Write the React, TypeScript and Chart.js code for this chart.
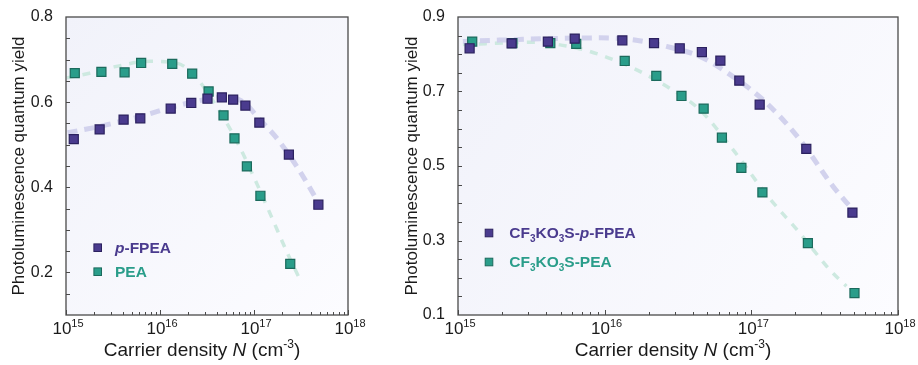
import React, { useEffect, useRef } from 'react';
import { Chart, registerables } from 'chart.js';

Chart.register(...registerables);

const FONT = '"Liberation Sans", Arial, Helvetica, sans-serif';
const INK = '#1a1a1a';
const FRAME = '#4a4a4a';
const PURPLE = '#4a3b8e';
const PURPLE_EDGE = '#2b215f';
const TEAL = '#2a9d8a';
const TEAL_EDGE = '#1b6a5c';
const PURPLE_FIT = 'rgba(208, 208, 236, 0.95)';
const TEAL_FIT = 'rgba(202, 232, 222, 0.95)';

// ---- Left panel: p-FPEA and PEA films ----
const fpeaN = [1.21e15, 2.28e15, 4.1e15, 6.17e15, 1.3e16, 2.15e16, 3.2e16, 4.55e16, 6.0e16, 8.1e16, 1.14e17, 2.35e17, 4.84e17];
const fpeaPLQY = [0.513, 0.536, 0.559, 0.562, 0.585, 0.598, 0.608, 0.611, 0.606, 0.592, 0.552, 0.477, 0.359];
const peaN = [1.24e15, 2.38e15, 4.2e15, 6.3e15, 1.35e16, 2.2e16, 3.29e16, 4.74e16, 6.2e16, 8.4e16, 1.17e17, 2.43e17];
const peaPLQY = [0.668, 0.671, 0.67, 0.692, 0.69, 0.667, 0.625, 0.569, 0.515, 0.449, 0.38, 0.22];

// fitted trend curves (dashed)
const fpeaFitN = [1.04e15, 2.28e15, 6.07e15, 1.43e16, 3.37e16, 5.22e16, 7.93e16, 1.14e17, 1.65e17, 2.38e17, 3.44e17, 4.61e17];
const fpeaFit = [0.528, 0.543, 0.566, 0.59, 0.608, 0.613, 0.598, 0.56, 0.522, 0.475, 0.42, 0.372];
const peaFitN = [1.02e15, 1.78e15, 3.46e15, 7.74e15, 1.54e16, 2.39e16, 3.37e16, 4.86e16, 7.02e16, 1.04e17, 1.54e17, 2.27e17, 3.2e17];
const peaFit = [0.657, 0.668, 0.684, 0.696, 0.691, 0.66, 0.615, 0.56, 0.495, 0.415, 0.33, 0.245, 0.176];

// ---- Right panel: CF3KO3S-treated films ----
const cfFpeaN = [1.2e15, 2.32e15, 4.1e15, 6.25e15, 1.32e16, 2.17e16, 3.25e16, 4.6e16, 6.15e16, 8.28e16, 1.14e17, 2.37e17, 4.89e17];
const cfFpeaPLQY = [0.816, 0.829, 0.834, 0.842, 0.837, 0.83, 0.816, 0.806, 0.783, 0.729, 0.665, 0.546, 0.375];
const cfPeaN = [1.25e15, 2.35e15, 4.26e15, 6.4e15, 1.37e16, 2.25e16, 3.34e16, 4.73e16, 6.3e16, 8.55e16, 1.19e17, 2.43e17, 5.05e17];
const cfPeaPLQY = [0.834, 0.83, 0.83, 0.828, 0.782, 0.742, 0.688, 0.654, 0.576, 0.495, 0.429, 0.293, 0.159];

const cfFpeaFitN = [1.08e15, 1.92e15, 9.25e15, 1.56e16, 2.64e16, 4.45e16, 7.5e16, 1.27e17, 2.14e17, 3.61e17, 4.69e17];
const cfFpeaFit = [0.834, 0.838, 0.844, 0.839, 0.821, 0.794, 0.74, 0.669, 0.571, 0.445, 0.392];
const cfPeaFitN = [1.08e15, 3.24e15, 6.41e15, 9.25e15, 1.56e16, 2.64e16, 4.45e16, 7.5e16, 1.27e17, 2.14e17, 3.42e17, 4.45e17];
const cfPeaFit = [0.826, 0.832, 0.817, 0.799, 0.763, 0.714, 0.651, 0.544, 0.423, 0.32, 0.222, 0.177];

// ---- axes ----
const xDecades = [15, 16, 17, 18];
const leftYTicks = [0.2, 0.4, 0.6, 0.8];
const rightYTicks = [0.1, 0.3, 0.5, 0.7, 0.9];

type Run = { t: string; italic?: boolean; sub?: boolean; sup?: boolean };

const xTitleRuns: Run[] = [
  { t: 'Carrier density ' },
  { t: 'N', italic: true },
  { t: ' (cm' },
  { t: '-3', sup: true },
  { t: ')' },
];

const leftLegendRuns: Run[][] = [
  [{ t: 'p', italic: true }, { t: '-FPEA' }],
  [{ t: 'PEA' }],
];
const rightLegendRuns: Run[][] = [
  [{ t: 'CF' }, { t: '3', sub: true }, { t: 'KO' }, { t: '3', sub: true }, { t: 'S-' }, { t: 'p', italic: true }, { t: '-FPEA' }],
  [{ t: 'CF' }, { t: '3', sub: true }, { t: 'KO' }, { t: '3', sub: true }, { t: 'S-PEA' }],
];

interface Series { xs: number[]; ys: number[]; fill: string; edge: string }
interface Fit { xs: number[]; ys: number[]; color: string; width: number; dash: number[] }
interface PanelSpec {
  points: Series[]; // first entry drawn on top
  fits: Fit[];
  yMin: number;
  yMax: number;
  yTicks: number[];
  yMinorStep: number;
  yAxisWidth: number;
  titlePad: number;
  padRight: number;
  legend: { squareX: number; firstY: number; rowGap: number; textX: number; runs: Run[][] };
}

function drawRuns(ctx: CanvasRenderingContext2D, runs: Run[], x: number, baseline: number, size: number, weight: string, color: string, draw = true): number {
  let cx = x;
  for (const r of runs) {
    const small = r.sub || r.sup;
    const fs = small ? Math.round(size * 0.65) : size;
    ctx.font = `${r.italic ? 'italic ' : ''}${weight} ${fs}px ${FONT}`;
    const dy = r.sub ? size * 0.28 : r.sup ? -size * 0.42 : 0;
    if (draw) {
      ctx.fillStyle = color;
      ctx.fillText(r.t, cx, baseline + dy);
    }
    cx += ctx.measureText(r.t).width;
  }
  return cx - x;
}

function makeDecor(spec: PanelSpec) {
  return {
    id: 'panelDecor',
    beforeDraw(chart: any) {
      const { ctx, chartArea: a } = chart;
      const g = ctx.createLinearGradient(a.left, a.top, a.right, a.bottom);
      g.addColorStop(0, '#f1f2fa');
      g.addColorStop(1, '#fcfcff');
      ctx.save();
      ctx.fillStyle = g;
      ctx.fillRect(a.left, a.top, a.right - a.left, a.bottom - a.top);
      ctx.restore();
    },
    afterDraw(chart: any) {
      const { ctx, chartArea: a, scales } = chart;
      const xs = scales.x;
      const ys = scales.y;
      ctx.save();
      ctx.strokeStyle = FRAME;
      ctx.lineWidth = 1.3;
      ctx.strokeRect(a.left, a.top, a.right - a.left, a.bottom - a.top);

      // inward ticks on the left axis
      ctx.lineWidth = 1;
      ctx.beginPath();
      const n = Math.round((spec.yMax - spec.yMin) / spec.yMinorStep);
      for (let i = 1; i < n; i++) {
        const v = spec.yMin + i * spec.yMinorStep;
        const py = Math.round(ys.getPixelForValue(v)) + 0.5;
        ctx.moveTo(a.left, py);
        ctx.lineTo(a.left + 4, py);
      }
      // inward ticks on the bottom axis (log decades + minors)
      for (const d of xDecades) {
        const px = Math.round(xs.getPixelForValue(Math.pow(10, d))) + 0.5;
        ctx.moveTo(px, a.bottom);
        ctx.lineTo(px, a.bottom - 5);
        if (d === xDecades[xDecades.length - 1]) continue;
        for (let k = 2; k <= 9; k++) {
          const mx = Math.round(xs.getPixelForValue(k * Math.pow(10, d))) + 0.5;
          ctx.moveTo(mx, a.bottom);
          ctx.lineTo(mx, a.bottom - 3);
        }
      }
      ctx.stroke();

      // x tick labels: 10^n
      ctx.textAlign = 'left';
      ctx.textBaseline = 'alphabetic';
      for (const d of xDecades) {
        const runs: Run[] = [{ t: '10' }, { t: String(d), sup: true }];
        const w = drawRuns(ctx, runs, 0, 0, 17, 'normal', INK, false);
        const px = xs.getPixelForValue(Math.pow(10, d));
        drawRuns(ctx, runs, px - w / 2 + 2, a.bottom + 19, 17, 'normal', INK);
      }

      // x axis title
      const tw = drawRuns(ctx, xTitleRuns, 0, 0, 19, 'normal', INK, false);
      const cx = (a.left + a.right) / 2 - 5;
      drawRuns(ctx, xTitleRuns, cx - tw / 2, a.bottom + 41, 19, 'normal', INK);

      // legend
      const L = spec.legend;
      L.runs.forEach((runs, i) => {
        const s = spec.points[i];
        const cy = L.firstY + i * L.rowGap;
        ctx.fillStyle = s.fill;
        ctx.fillRect(L.squareX - 3.8, cy - 3.8, 7.6, 7.6);
        ctx.strokeStyle = s.edge;
        ctx.lineWidth = 1;
        ctx.strokeRect(L.squareX - 3.8, cy - 3.8, 7.6, 7.6);
        drawRuns(ctx, runs, L.textX, cy + 5, 15.5, 'bold', s.fill);
      });
      ctx.restore();
    },
  };
}

function buildConfig(spec: PanelSpec): any {
  const pts = (xs: number[], ys: number[]) => xs.map((x, i) => ({ x, y: ys[i] }));
  const pointSets = spec.points.map((s, i) => ({
    data: pts(s.xs, s.ys),
    showLine: false,
    pointStyle: 'rect',
    pointRadius: 6.4,
    pointBackgroundColor: s.fill,
    pointBorderColor: s.edge,
    pointBorderWidth: 1.2,
    order: i,
  }));
  const fitSets = spec.fits.map((f, i) => ({
    data: pts(f.xs, f.ys),
    borderColor: f.color,
    borderWidth: f.width,
    borderDash: f.dash,
    pointRadius: 0,
    cubicInterpolationMode: 'monotone',
    fill: false,
    order: 10 + i,
  }));
  return {
    type: 'line',
    data: { datasets: [...pointSets, ...fitSets] },
    options: {
      responsive: false,
      animation: false,
      devicePixelRatio: 1,
      events: [],
      layout: { padding: { top: 17, right: spec.padRight, left: 0, bottom: 0 } },
      scales: {
        x: {
          type: 'logarithmic',
          min: 1e15,
          max: 1e18,
          grid: { display: false },
          border: { display: false },
          ticks: { display: false },
          afterFit: (s: any) => {
            s.height = 50;
          },
        },
        y: {
          type: 'linear',
          min: spec.yMin,
          max: spec.yMax,
          grid: { display: false },
          border: { display: false },
          afterBuildTicks: (s: any) => {
            s.ticks = spec.yTicks.map((v) => ({ value: v }));
          },
          ticks: {
            font: { family: FONT, size: 16 },
            color: INK,
            padding: 5,
            callback: (v: any) => Number(v).toFixed(1),
          },
          title: {
            display: true,
            text: 'Photoluminescence quantum yield',
            font: { family: FONT, size: 17 },
            color: INK,
            padding: { top: spec.titlePad, bottom: 0 },
          },
          afterFit: (s: any) => {
            s.width = spec.yAxisWidth;
          },
        },
      },
      plugins: { legend: { display: false }, tooltip: { enabled: false } },
    },
    plugins: [makeDecor(spec)],
  };
}

const LEFT: PanelSpec = {
  points: [
    { xs: fpeaN, ys: fpeaPLQY, fill: PURPLE, edge: PURPLE_EDGE },
    { xs: peaN, ys: peaPLQY, fill: TEAL, edge: TEAL_EDGE },
  ],
  fits: [
    { xs: fpeaFitN, ys: fpeaFit, color: PURPLE_FIT, width: 5, dash: [10, 7] },
    { xs: peaFitN, ys: peaFit, color: TEAL_FIT, width: 3.5, dash: [8, 8] },
  ],
  yMin: 0.1,
  yMax: 0.8,
  yTicks: leftYTicks,
  yMinorStep: 0.05,
  yAxisWidth: 66,
  titlePad: 9,
  padRight: 52,
  legend: { squareX: 97.7, firstY: 247.7, rowGap: 24, textX: 115, runs: leftLegendRuns },
};

const RIGHT: PanelSpec = {
  points: [
    { xs: cfFpeaN, ys: cfFpeaPLQY, fill: PURPLE, edge: PURPLE_EDGE },
    { xs: cfPeaN, ys: cfPeaPLQY, fill: TEAL, edge: TEAL_EDGE },
  ],
  fits: [
    { xs: cfFpeaFitN, ys: cfFpeaFit, color: PURPLE_FIT, width: 5, dash: [10, 7] },
    { xs: cfPeaFitN, ys: cfPeaFit, color: TEAL_FIT, width: 3.5, dash: [8, 8] },
  ],
  yMin: 0.1,
  yMax: 0.9,
  yTicks: rightYTicks,
  yMinorStep: 0.05,
  yAxisWidth: 58,
  titlePad: 2,
  padRight: 20,
  legend: { squareX: 89, firstY: 233, rowGap: 29, textX: 109.3, runs: rightLegendRuns },
};

function Panel({ spec, left, width }: { spec: PanelSpec; left: number; width: number }) {
  const ref = useRef<HTMLCanvasElement>(null);
  useEffect(() => {
    const chart = new Chart(ref.current as HTMLCanvasElement, buildConfig(spec));
    return () => chart.destroy();
  }, [spec]);
  return (
    <canvas
      ref={ref}
      width={width}
      height={365}
      style={{ position: 'absolute', left, top: 0, width, height: 365 }}
    />
  );
}

export default function App() {
  return (
    <div style={{ position: 'fixed', left: 0, top: 0, width: 918, height: 365, background: '#ffffff' }}>
      <Panel spec={LEFT} left={0} width={400} />
      <Panel spec={RIGHT} left={400} width={518} />
    </div>
  );
}
